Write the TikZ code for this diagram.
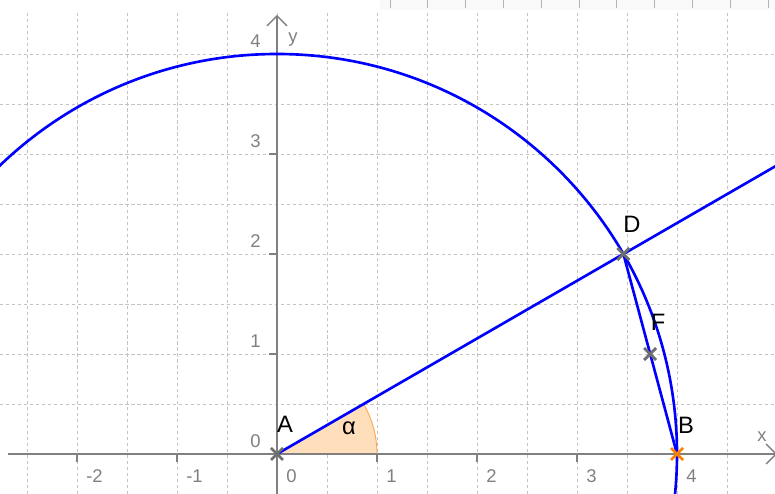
\documentclass[tikz,border=0pt]{standalone}
\usepackage{fontspec}
\setmainfont{Liberation Sans}
\usetikzlibrary{arrows.meta}

\definecolor{gridgray}{RGB}{195,195,195}
\definecolor{axisgray}{RGB}{128,128,128}
\definecolor{ptgray}{RGB}{110,110,110}
\definecolor{geoblue}{RGB}{0,0,255}
\definecolor{geoorange}{RGB}{255,127,0}
\definecolor{anglefill}{RGB}{255,222,188}

\begin{document}
\begin{tikzpicture}[scale=2,
    gridline/.style={gridgray, line width=0.5pt, dash pattern=on 1.8pt off 1.6pt},
    axisline/.style={axisgray, line width=0.8pt},
    geoline/.style={geoblue, line width=1.5pt},
    crossmark/.style={line width=1.6pt},
    ticklabel/.style={axisgray, font=\fontsize{10.5}{12}\selectfont, inner sep=0pt},
    ptlabel/.style={font=\fontsize{13.5}{15}\selectfont, inner sep=0pt}]

    \useasboundingbox (-2.77,-0.40) rectangle (4.98,4.54);
    \clip (-2.77,-0.40) rectangle (4.98,4.54);

    % grid
    \foreach \x in {-2.5,-2,...,4.5}
      \draw[gridline] (\x,-0.40) -- (\x,4.42);
    \foreach \y in {0.5,1,...,4}
      \draw[gridline] (-2.77,\y) -- (4.98,\y);

    % strip at the top
    \fill[gray!5] (1.03,4.44) rectangle (4.98,4.54);
    \foreach \i in {0,...,10}
      \draw[axisgray!60, line width=0.4pt] (1.13+0.378*\i,4.46) -- (1.13+0.378*\i,4.54);

    % angle alpha
    \fill[anglefill] (0,0) -- (1,0) arc[start angle=0, end angle=30, radius=1] -- cycle;
    \draw[geoorange!70, line width=0.5pt] (1,0) arc[start angle=0, end angle=30, radius=1];

    % axes
    \draw[axisline, -{Straight Barb[length=2mm,width=4mm]}] (-2.69,0) -- (5.0,0);
    \draw[axisline, -{Straight Barb[length=2mm,width=4mm]}] (0,-0.40) -- (0,4.39);
    \foreach \x in {-2,-1,1,2,3,4}
      \draw[axisline] (\x,0) -- (\x,-0.08);
    \foreach \y in {1,2,3,4}
      \draw[axisline] (0,\y) -- (-0.08,\y);

    \foreach \x [count=\i] in {-2,-1,0,1,2,3,4}
      \node[ticklabel, anchor=west] (xl\i) at (\x+0.09,-0.22) {\x};
    \foreach \y in {0,...,4}
      \node[ticklabel, anchor=east] (yl\y) at (-0.16,\y+0.13) {\y};
    \node[ticklabel] (xlab) at (4.85,0.17) {x};
    \node[ticklabel] (ylab) at (0.16,4.14) {y};

    % points
    \coordinate (A) at (0,0);
    \coordinate (B) at (4,0);
    \coordinate (D) at (30:4);
    \coordinate (F) at (3.732,1);
    \coordinate (Dfar) at (30:6);

    \draw[geoline] (A) circle[radius=4];
    \draw[geoline] (A) -- (Dfar);
    \draw[geoline] (D) -- (B);

    \foreach \p in {A,D,F}
      \draw[crossmark, ptgray] (\p) +(-0.06,-0.06) -- +(0.06,0.06)
        (\p) +(-0.06,0.06) -- +(0.06,-0.06);
    \draw[crossmark, geoorange] (B) +(-0.06,-0.06) -- +(0.06,0.06)
      (B) +(-0.06,0.06) -- +(0.06,-0.06);

    \node[ptlabel] (Alab) at (0.08,0.30) {A};
    \node[ptlabel] (Blab) at (4.09,0.29) {B};
    \node[ptlabel] (Dlab) at (3.55,2.30) {D};
    \node[ptlabel] (Flab) at (3.81,1.32) {F};
    \node[ptlabel] (alab) at (0.72,0.26) {α};
  \end{tikzpicture}
\end{document}
